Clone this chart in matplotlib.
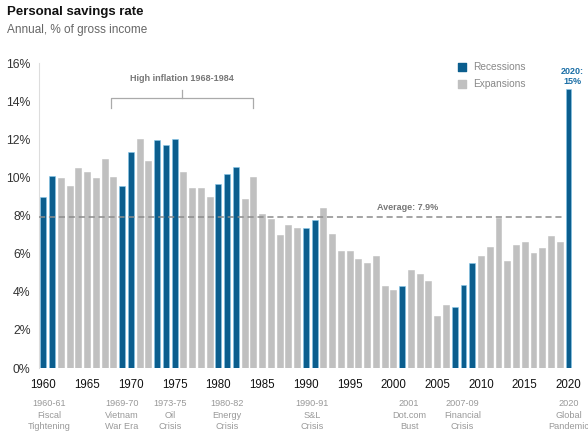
"""Personal savings rate, annual, with recession years highlighted."""

import matplotlib

matplotlib.use("Agg")
import matplotlib.pyplot as plt

YEARS = list(range(1960, 2021))
SAVINGS_RATE = [
    9.0, 10.1, 9.97, 9.56, 10.49, 10.3, 9.97, 10.98, 10.0, 9.53,
    11.31, 12.03, 10.88, 11.94, 11.70, 12.01, 10.30, 9.42, 9.42, 9.0,
    9.65, 10.19, 10.53, 8.87, 10.04, 8.08, 7.82, 6.96, 7.48, 7.34,
    7.34, 7.78, 8.38, 7.03, 6.14, 6.15, 5.72, 5.51, 5.86, 4.32,
    4.11, 4.30, 5.14, 4.93, 4.58, 2.71, 3.32, 3.20, 4.35, 5.51,
    5.89, 6.36, 7.87, 5.63, 6.47, 6.59, 6.03, 6.29, 6.91, 6.63,
    14.64,
]
RECESSION_YEARS = [1960, 1961, 1969, 1970, 1973, 1974, 1975, 1980, 1981, 1982,
                   1990, 1991, 2001, 2007, 2008, 2009, 2020]
AVERAGE = 7.9

EVENT_YEARS = [1960.7, 1969.0, 1974.5, 1981.0, 1990.7, 2001.8, 2007.9, 2020.0]
EVENT_LABELS = [
    "1960-61\nFiscal\nTightening",
    "1969-70\nVietnam\nWar Era",
    "1973-75\nOil\nCrisis",
    "1980-82\nEnergy\nCrisis",
    "1990-91\nS&L\nCrisis",
    "2001\nDot.com\nBust",
    "2007-09\nFinancial\nCrisis",
    "2020\nGlobal\nPandemic",
]
Y_TICKS = [0, 2, 4, 6, 8, 10, 12, 14, 16]
X_TICKS = list(range(1960, 2021, 5))

BLUE = "#0b5e8e"
GRAY = "#c0c0c0"

plt.rcParams["font.family"] = ["Liberation Sans", "DejaVu Sans"]

fig = plt.figure(figsize=(5.88, 4.32), dpi=100)
ax = fig.add_axes([0.0663, 0.148, 0.908, 0.706])

colors = [BLUE if y in RECESSION_YEARS else GRAY for y in YEARS]
edges = ["#86c8ea" if y in RECESSION_YEARS else GRAY for y in YEARS]
ax.bar(YEARS, SAVINGS_RATE, width=0.68, color=colors, edgecolor=edges, linewidth=0.4, zorder=2)

ax.set_xlim(1959.5, 2020.5)
ax.set_ylim(0, 16)
ax.set_yticks(Y_TICKS, [f"{v}%" for v in Y_TICKS])
ax.set_xticks(X_TICKS, [str(x) for x in X_TICKS])
ax.tick_params(axis="y", length=0, labelsize=8.8, labelcolor="#333333", pad=6)
ax.tick_params(axis="x", length=0, labelsize=8.3, labelcolor="#111111", pad=8)
for side in ["top", "right", "bottom"]:
    ax.spines[side].set_visible(False)
ax.spines["left"].set_color("#dddddd")
ax.spines["left"].set_linewidth(0.8)

# average line
ax.plot([1959.5, 2019.6], [AVERAGE, AVERAGE], ls=(0, (4, 2.5)), color="#8c8c8c", lw=1.1, zorder=3)
ax.text(2001.6, 8.4, f"Average: {AVERAGE}%", ha="center", va="center",
        fontsize=6.5, color="#777777", fontweight="bold")

# high inflation bracket
ax.plot([1967.7, 1967.7, 1984.0, 1984.0], [13.64, 14.18, 14.18, 13.64], color="#aaaaaa", lw=0.9, clip_on=False)
ax.plot([1975.85, 1975.85], [14.18, 14.6], color="#aaaaaa", lw=0.9)
ax.text(1975.85, 15.2, "High inflation 1968-1984", ha="center", va="center",
        fontsize=6.5, color="#777777", fontweight="bold")

# 2020 callout
ax.text(2020.4, 15.3, "2020:\n15%", ha="center", va="center", fontsize=6.5,
        color="#1a6ea6", fontweight="bold", linespacing=1.15, clip_on=False)

# legend
ax.scatter([2007.8], [15.78], marker="s", s=38, color=BLUE, clip_on=False)
ax.scatter([2007.8], [14.9], marker="s", s=38, color=GRAY, clip_on=False)
ax.text(2009.1, 15.78, "Recessions", va="center", fontsize=7.3, color="#888888")
ax.text(2009.1, 14.9, "Expansions", va="center", fontsize=7.3, color="#888888")

# event labels under x axis
for yr, label in zip(EVENT_YEARS, EVENT_LABELS):
    ax.annotate(label, xy=(yr, 0), xycoords="data", xytext=(0, -22), textcoords="offset points",
                ha="center", va="top", fontsize=6.6, color="#999999", linespacing=1.42,
                annotation_clip=False)

fig.text(0.012, 0.972, "Personal savings rate", fontsize=9.5, fontweight="bold", color="#111111", va="center")
fig.text(0.012, 0.93, "Annual, % of gross income", fontsize=8.5, color="#666666", va="center")

fig.savefig("out.png", dpi=100)
